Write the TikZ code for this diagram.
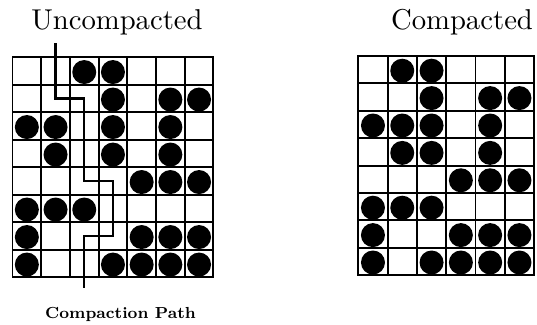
\documentclass[tikz,border=0pt]{standalone}
\usepackage{graphicx}
\usepackage{tikz}
\usetikzlibrary{
  calc,
  positioning
}

\begin{document}
\begin{tikzpicture}[x=1pt,y=-1pt,
    gridline/.style={line width=1.9pt,line cap=rect},
    dot/.style={circle,fill=black,inner sep=0pt,minimum size=24pt},
    cpath/.style={line width=2.2pt},
    title/.style={anchor=base}]
  \useasboundingbox (0,0) rectangle (537,324);

  \node[title] (U) at (117,29) {\scalebox{2.87}{Uncompacted}};
  \node[title] (C) at (462,29) {\scalebox{2.87}{Compacted}};

  % uncompacted: 7 x 8 cells
  \foreach \i in {0,...,7} \draw[gridline] (12.5+\i*28.7,57.3) -- (12.5+\i*28.7,277.3);
  \foreach \j in {0,...,8} \draw[gridline] (12.5,57.3+\j*27.5) -- (213.4,57.3+\j*27.5);
  \foreach \r in {0,...,7} \foreach \c in {0,...,6}
    \coordinate (L-\r-\c) at (12.5+\c*28.7+14.35,57.3+\r*27.5+13.75);
  \foreach \r/\cs in {0/{2,3},1/{3,5,6},2/{0,1,3,5},3/{1,3,5},4/{4,5,6},5/{0,1,2},6/{0,4,5,6},7/{0,3,4,5,6}}
    \foreach \c in \cs \node[dot] (u-\r-\c) at ($(L-\r-\c)+(0,1)$) {};

  % compacted: 6 x 8 cells
  \foreach \i in {0,...,6} \draw[gridline] (358.3+\i*29.3,56) -- (358.3+\i*29.3,275.2);
  \foreach \j in {0,...,8} \draw[gridline] (358.3,56+\j*27.4) -- (534.1,56+\j*27.4);
  \foreach \r in {0,...,7} \foreach \c in {0,...,5}
    \coordinate (R-\r-\c) at (358.3+\c*29.3+14.65,56+\r*27.4+13.7);
  \foreach \r/\cs in {0/{1,2},1/{2,4,5},2/{0,1,2,4},3/{1,2,4},4/{3,4,5},5/{0,1,2},6/{0,3,4,5},7/{0,2,3,4,5}}
    \foreach \c in \cs \node[dot] (c-\r-\c) at ($(R-\r-\c)+(0,1)$) {};

  \draw[cpath] ($(L-0-1)+(0,-28)$) coordinate (start) -- (L-1-1) -- (L-1-2) -- (L-4-2)
    -- (L-4-3) -- (L-6-3) -- (L-6-2) -- ($(L-7-2)+(0,24.5)$) coordinate (end);
  \node[anchor=base west,inner sep=0pt] (P) at (45,318)
    {\scalebox{2.0}{\fontsize{8}{9}\selectfont\bfseries Compaction Path}};
\end{tikzpicture}
\end{document}
